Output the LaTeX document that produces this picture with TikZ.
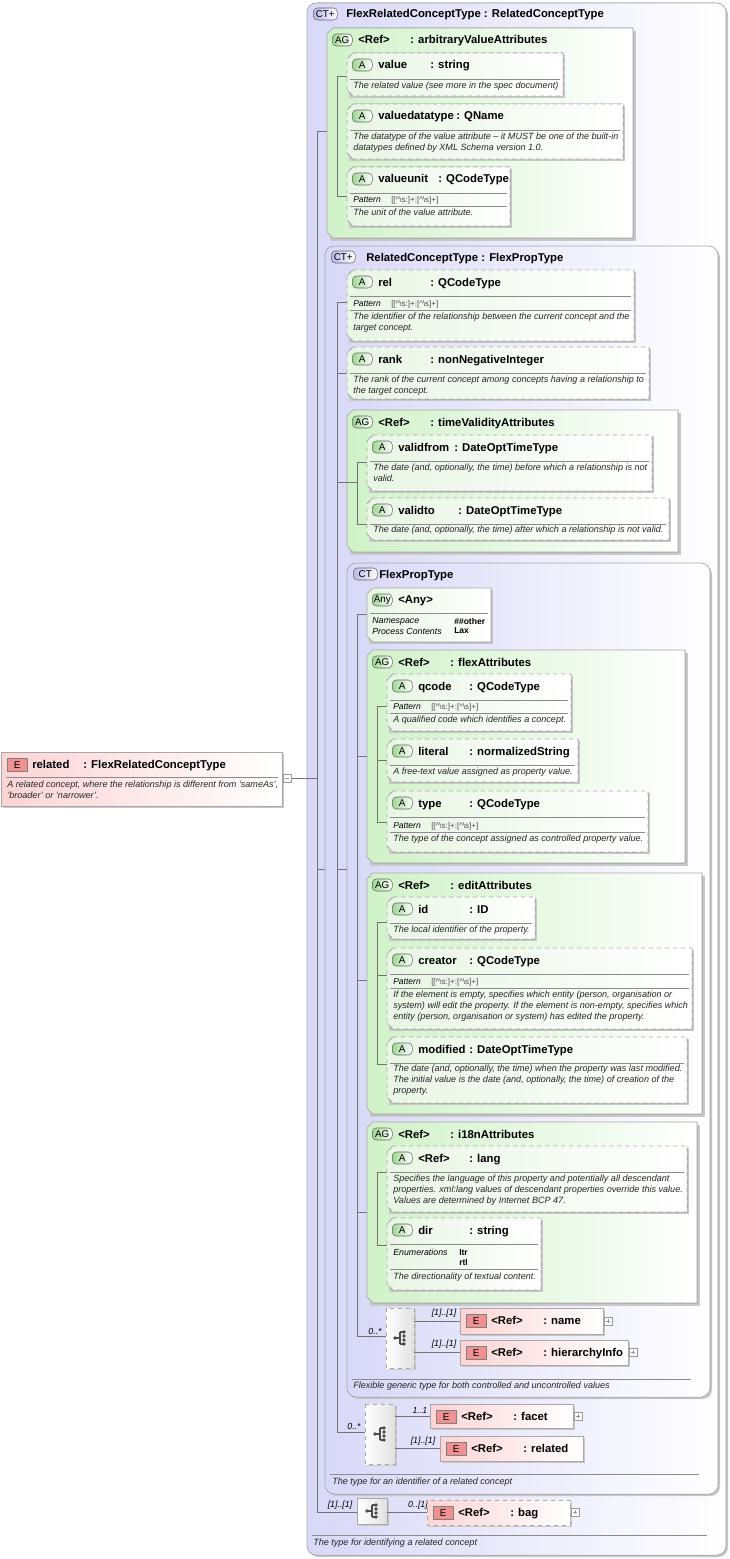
\documentclass[tikz,border=0pt]{standalone}
\usepackage{fontspec}
\setmainfont{Liberation Sans}
\definecolor{ctL}{HTML}{D8D8F8}
\definecolor{agL}{HTML}{D0F2C8}
\definecolor{attrL}{HTML}{E8F6E4}
\definecolor{elL}{HTML}{FCD4D4}
\definecolor{bord}{HTML}{A8A8A8}
\definecolor{shadowc}{HTML}{C8C8C8}
\definecolor{bdgG}{HTML}{9CD890}
\definecolor{bdgR}{HTML}{F09090}
\definecolor{bdgC}{HTML}{B8B8E8}
\tikzset{
 nm/.style={font=\fontsize{8.5}{9}\selectfont\bfseries,inner sep=0pt,anchor=base west},
 dc/.style={font=\fontsize{6.8}{8.2}\selectfont\itshape,inner sep=0pt,align=left,anchor=north west,text=black!85},
 pt/.style={font=\fontsize{6}{7}\selectfont,inner sep=0pt,anchor=west},
 dashbox/.style={draw=bord,dashed,line width=0.6pt},
 sepc/.style={draw=black!45,line width=0.4pt},
 conn/.style={draw=black!55,line width=0.5pt},
 lbl/.style={font=\fontsize{6.6}{7}\selectfont\itshape,inner sep=0pt,anchor=south},
 bdg/.style={draw=black!60,rounded corners=3pt,inner sep=0pt,minimum height=9pt,font=\fontsize{7.4}{8}\selectfont,anchor=west},
}
\newcommand\chpath[4]{(#1+6,#2)--(#3,#2)--(#3,#4)--(#1+6,#4)--(#1,#4-6)--(#1,#2+6)--cycle}
\newcommand\attr[8]{%
 \fill[shadowc] (#1+2,#2+2) rectangle (#3+2,#4+2);
 \fill[left color=attrL,right color=white] \chpath{#1}{#2}{#3}{#4};
 \draw[dashbox] \chpath{#1}{#2}{#3}{#4};
 \node[bdg,left color=bdgG,right color=white,minimum width=15pt] at (#1+5,#2+12) {#5};
 \node[nm] at (#1+31,#2+16) {#6};
 \node[nm] at (#7,#2+16) {#8};
 \draw[sepc] (#1+3,#2+26) -- (#3-3,#2+26);}
\newcommand\agbox[6]{%
 \fill[shadowc] (#1+3,#2+3) rectangle (#3+3,#4+3);
 \fill[left color=agL,right color=white] \chpath{#1}{#2}{#3}{#4};
 \draw[bord] \chpath{#1}{#2}{#3}{#4};
 \node[bdg,left color=bdgG,right color=white,minimum width=15pt] at (#1+5,#2+12) {AG};
 \node[nm] at (#1+31,#2+16) {#5};
 \node[nm] at (#1+83,#2+16) {#6};}
\newcommand\ctbox[7]{%
 \fill[shadowc,rounded corners=7pt] (#1+2,#2+2) rectangle (#3+2,#4+2);
 \fill[left color=ctL,right color=white,rounded corners=7pt] (#1,#2) rectangle (#3,#4);
 \draw[bord,rounded corners=7pt] (#1,#2) rectangle (#3,#4);
 \node[bdg,left color=bdgC,right color=white,minimum width=18pt] at (#1+6,#2+11) {#5};
 \node[nm] at (#1+#7,#2+15) {#6};}
\newcommand\elem[7]{% x1 y1 x2 y2 name typex type
 \fill[shadowc] (#1+2,#2+2) rectangle (#3+2,#4+2);
 \fill[left color=elL,right color=white] (#1,#2) rectangle (#3,#4);
 \node[bdg,draw=black!50,rounded corners=0pt,fill=bdgR,minimum width=15pt,minimum height=10pt] at (#1+6,#2+13) {E};
 \node[nm] at (#1+31,#2+16) {#5};
 \node[nm] at (#6,#2+16) {#7};}
\newcommand\plusb[2]{\draw[black!40,fill=white] (#1,#2-4) rectangle (#1+8,#2+4); \draw[black!40] (#1+2,#2)--(#1+6,#2) (#1+4,#2-2)--(#1+4,#2+2);}
\newcommand\seqico[2]{%
 \fill[black!70] (#1-5,#2) circle (1.8) (#1+4,#2-6) circle (1.8) (#1+4,#2-2) circle (1.8) (#1+4,#2+2) circle (1.8) (#1+4,#2+6) circle (1.8);
 \draw[black!70,line width=0.8pt] (#1-5,#2)--(#1,#2) (#1,#2-6)--(#1,#2+6) (#1,#2-6)--(#1+4,#2-6) (#1,#2+6)--(#1+4,#2+6);}
\newcommand\pat[3]{\node[pt,font=\fontsize{6.4}{7}\selectfont\itshape] at (#1,#2) {Pattern}; \node[pt,text=black!70] at (#1+38,#2) {[[\^{}\textbackslash s:]+:[\^{}\textbackslash s]+]}; \draw[sepc] (#1-3,#2+6)--(#3,#2+6);}
\begin{document}
\begin{tikzpicture}[x=0.75pt,y=-0.75pt]
\useasboundingbox (0,0) rectangle (730,1559);
\fill[white] (0,0) rectangle (730,1559);
% outer CT
\ctbox{307}{3}{726}{1555}{CT+}{FlexRelatedConceptType : RelatedConceptType}{39}
\draw[sepc] (312,1535)--(707,1535);
\node[dc] at (313,1539) {The type for identifying a related concept};
% connectors outer
\draw[conn] (291,778)--(317,778) (317,131)--(317,1512) (317,131)--(347,131) (317,869)--(337,869) (317,1512)--(357,1512);
% AG arbitrary
\agbox{327}{28}{633}{238}{<Ref>}{: arbitraryValueAttributes}
\draw[conn] (337,76)--(337,196) (337,76)--(347,76) (337,196)--(347,196);
\attr{347}{53}{563}{96}{A}{value}{430}{: string}
\node[dc] at (353,82) {The related value (see more in the spec document)};
\attr{347}{104}{623}{159}{A}{valuedatatype}{456}{: QName}
\node[dc] at (353,133) {The datatype of the value attribute -- it MUST be one of the built-in\\datatypes defined by XML Schema version 1.0.};
\attr{347}{167}{510}{226}{A}{valueunit}{438}{: QCodeType}
\pat{353}{200}{507}
\node[dc] at (353,209) {The unit of the value attribute.};
% RelatedConceptType
\ctbox{325}{246}{718}{1494}{CT+}{RelatedConceptType : FlexPropType}{41}
\draw[sepc] (330,1474)--(699,1474);
\node[dc] at (332,1478) {The type for an identifier of a related concept};
\draw[conn] (337,302)--(337,1432) (337,302)--(347,302) (337,373)--(347,373) (337,482)--(347,482) (337,869)--(347,869);
\attr{347}{270}{634}{341}{A}{rel}{430}{: QCodeType}
\pat{353}{304}{631}
\node[dc] at (353,313) {The identifier of the relationship between the current concept and the\\target concept.};
\attr{347}{347}{649}{399}{A}{rank}{430}{: nonNegativeInteger}
\node[dc] at (353,376) {The rank of the current concept among concepts having a relationship to\\the target concept.};
\agbox{347}{410}{678}{552}{<Ref>}{: timeValidityAttributes}
\draw[conn] (357,462)--(357,524) (347,482)--(357,482) (357,462)--(367,462) (357,524)--(367,524);
\attr{367}{435}{652}{491}{A}{validfrom}{454}{: DateOptTimeType}
\node[dc] at (373,464) {The date (and, optionally, the time) before which a relationship is not\\valid.};
\attr{367}{498}{669}{540}{A}{validto}{458}{: DateOptTimeType}
\node[dc] at (373,526) {The date (and, optionally, the time) after which a relationship is not valid.};
% FlexPropType
\ctbox{347}{563}{710}{1397}{CT}{FlexPropType}{32}
\draw[sepc] (352,1379)--(691,1379);
\node[dc] at (353,1382) {Flexible generic type for both controlled and uncontrolled values};
\draw[conn] (357,614)--(357,1336) (357,614)--(367,614) (357,756)--(367,756) (357,980)--(367,980) (357,1212)--(367,1212) (357,1336)--(386,1336);
% Any
\fill[shadowc] (369,590) rectangle (493,644);
\fill[left color=attrL,right color=white] \chpath{367}{588}{491}{642};
\draw[bord] \chpath{367}{588}{491}{642};
\node[bdg,left color=bdgG,right color=white,minimum width=15pt] at (372,600) {Any};
\node[nm] at (398,603) {<Any>};
\draw[sepc] (370,613)--(488,613);
\node[pt,font=\fontsize{6.6}{7}\selectfont\itshape] at (372,621) {Namespace};
\node[pt,font=\fontsize{6.6}{7}\selectfont\itshape] at (372,631) {Process Contents};
\node[pt,font=\fontsize{6.4}{7}\selectfont\bfseries] at (454,621) {\#\#other};
\node[pt,font=\fontsize{6.4}{7}\selectfont\bfseries] at (454,631) {Lax};
% flexAttributes
\agbox{367}{650}{685}{863}{<Ref>}{: flexAttributes}
\draw[conn] (377,706)--(377,822) (377,706)--(387,706) (377,760)--(387,760) (377,822)--(387,822);
\attr{387}{674}{571}{731}{A}{qcode}{469}{: QCodeType}
\pat{393}{707}{568}
\node[dc] at (393,716) {A qualified code which identifies a concept.};
\attr{387}{739}{578}{782}{A}{literal}{469}{: normalizedString}
\node[dc] at (393,768) {A free-text value assigned as property value.};
\attr{387}{791}{648}{852}{A}{type}{469}{: QCodeType}
\pat{393}{826}{645}
\node[dc] at (393,835) {The type of the concept assigned as controlled property value.};
% editAttributes
\agbox{367}{873}{702}{1114}{<Ref>}{: editAttributes}
\draw[conn] (377,922)--(377,1064) (377,922)--(387,922) (377,975)--(387,975) (377,1064)--(387,1064);
\attr{387}{897}{535}{939}{A}{id}{469}{: ID}
\node[dc] at (393,926) {The local identifier of the property.};
\attr{387}{948}{692}{1029}{A}{creator}{469}{: QCodeType}
\pat{393}{982}{689}
\node[dc] at (393,991) {If the element is empty, specifies which entity (person, organisation or\\system) will edit the property. If the element is non-empty, specifies which\\entity (person, organisation or system) has edited the property.};
\attr{387}{1037}{687}{1103}{A}{modified}{469}{: DateOptTimeType}
\node[dc] at (393,1065) {The date (and, optionally, the time) when the property was last modified.\\The initial value is the date (and, optionally, the time) of creation of the\\property.};
% i18n
\agbox{367}{1122}{697}{1303}{<Ref>}{: i18nAttributes}
\draw[conn] (377,1172)--(377,1245) (377,1172)--(387,1172) (377,1245)--(387,1245);
\attr{387}{1146}{687}{1212}{A}{<Ref>}{469}{: lang}
\node[dc] at (393,1175) {Specifies the language of this property and potentially all descendant\\properties. xml:lang values of descendant properties override this value.\\Values are determined by Internet BCP 47.};
\attr{387}{1218}{541}{1290}{A}{dir}{469}{: string}
\node[pt,font=\fontsize{6.6}{7}\selectfont\itshape] at (393,1252) {Enumerations};
\node[pt,font=\fontsize{6.4}{7}\selectfont\bfseries] at (459,1252) {ltr};
\node[pt,font=\fontsize{6.4}{7}\selectfont\bfseries] at (459,1262) {rtl};
\draw[sepc] (390,1269)--(538,1269);
\node[dc] at (393,1273) {The directionality of textual content.};
% choice 1
\fill[shadowc] (388,1310) rectangle (416,1370);
\fill[left color=white,right color=black!12] (386,1308) rectangle (414,1368);
\draw[dashbox] (386,1308) rectangle (414,1368);
\seqico{400}{1338}
\node[lbl] at (375,1335) {0..*};
\draw[conn] (414,1321)--(460,1321) (414,1352)--(460,1352);
\node[lbl] at (444,1318) {[1]..[1]};
\node[lbl] at (444,1349) {[1]..[1]};
\elem{460}{1308}{603}{1334}{<Ref>}{543}{: name}
\draw[bord] (460,1308) rectangle (603,1334);
\plusb{604}{1321}
\elem{460}{1340}{628}{1365}{<Ref>}{543}{: hierarchyInfo}
\draw[bord] (460,1340) rectangle (628,1365);
\plusb{629}{1352}
% choice 2
\fill[shadowc] (367,1406) rectangle (397,1466);
\fill[left color=white,right color=black!12] (365,1404) rectangle (395,1464);
\draw[dashbox] (365,1404) rectangle (395,1464);
\seqico{380}{1434}
\draw[conn] (337,1432)--(365,1432);
\node[lbl] at (354,1430) {0..*};
\draw[conn] (395,1416)--(430,1416) (395,1448)--(440,1448);
\node[lbl] at (420,1414) {1..1};
\node[lbl] at (423,1446) {[1]..[1]};
\elem{430}{1404}{573}{1428}{<Ref>}{513}{: facet}
\draw[bord] (430,1404) rectangle (573,1428);
\plusb{574}{1416}
\elem{440}{1436}{583}{1461}{<Ref>}{523}{: related}
\draw[bord] (440,1436) rectangle (583,1461);
% bag sequence
\fill[shadowc] (359,1500) rectangle (389,1526);
\fill[left color=white,right color=black!12] (357,1498) rectangle (387,1524);
\draw[bord] (357,1498) rectangle (387,1524);
\seqico{372}{1511}
\node[lbl] at (340,1510) {[1]..[1]};
\draw[conn] (387,1512)--(427,1512);
\node[lbl] at (418,1510) {0..[1]};
\elem{427}{1500}{570}{1525}{<Ref>}{510}{: bag}
\draw[dashbox] (427,1500) rectangle (570,1525);
\plusb{571}{1512}
% main element
\elem{1}{752}{282}{806}{related}{83}{: FlexRelatedConceptType}
\draw[bord] (1,752) rectangle (282,806);
\draw[sepc] (6,777)--(278,777);
\node[dc] at (7,781) {A related concept, where the relationship is different from 'sameAs',\\'broader' or 'narrower'.};
\draw[black!40,fill=white] (283,774) rectangle (291,782); \draw[black!40] (285,778)--(289,778);
\end{tikzpicture}
\end{document}
